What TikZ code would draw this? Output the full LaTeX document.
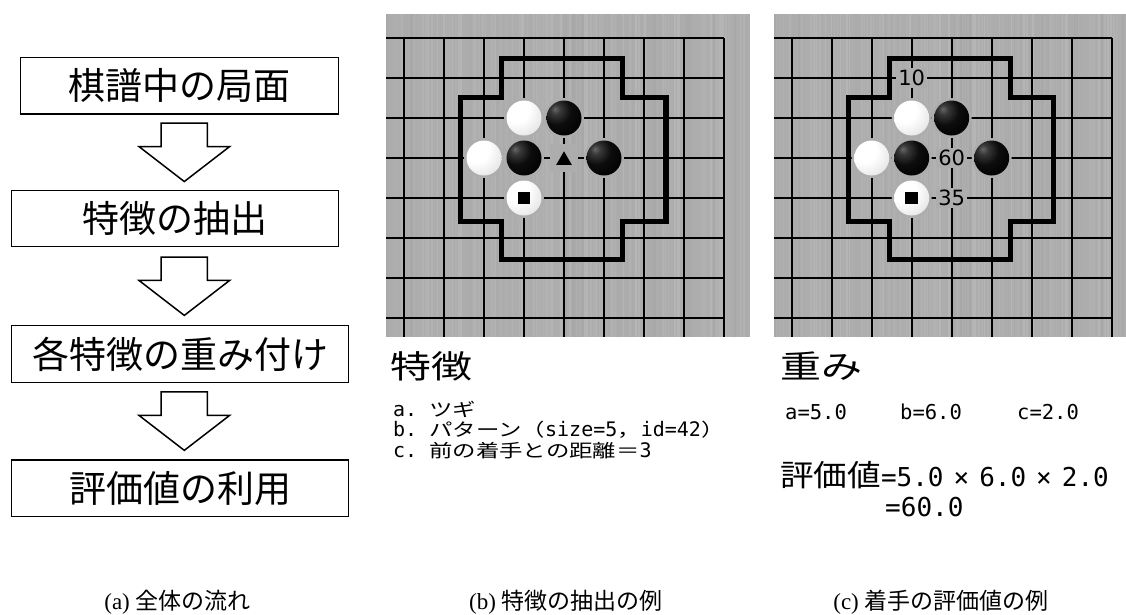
\documentclass[tikz,border=0pt]{standalone}
\usepackage{fontspec}
\usetikzlibrary{calc,shapes.geometric}

% Fonts
\newfontfamily\jpfont{Noto Sans CJK JP}
\newfontfamily\jpwide[FakeStretch=1.3]{Noto Sans CJK JP}
\newfontfamily\jphead[FakeStretch=1.28]{Noto Sans CJK JP}
\newfontfamily\jpeval[FakeStretch=1.12]{Noto Sans CJK JP}
\newfontfamily\monofnt{DejaVu Sans Mono}
\newfontfamily\capserif{Liberation Serif}
\newfontfamily\numfont{DejaVu Sans}
\newcommand\fsz[1]{\fontsize{#1pt}{#1pt}\selectfont}
\newcommand\featlat[1]{{\monofnt\fsz{20}#1}}
\newcommand\featjp[1]{{\jpwide\fsz{18}#1}}

\colorlet{boardgray}{black!32}

% Go stone shadings (highlight at the upper left)
\pgfdeclareradialshading{blackstone}{\pgfpoint{-13bp}{13bp}}{%
  color(0bp)=(black!60); color(7bp)=(black!78); color(20bp)=(black!95);
  color(40bp)=(black); color(62bp)=(black!92); color(100bp)=(black!90)}
\pgfdeclareradialshading{whitestone}{\pgfpoint{-14bp}{14bp}}{%
  color(0bp)=(white); color(18bp)=(white); color(38bp)=(black!10);
  color(52bp)=(black!30); color(66bp)=(black!50); color(100bp)=(black!50)}

\tikzset{
  flowbox/.style={draw=black, line width=1.5pt, inner sep=0, font=\jpfont\fsz{37}},
  arrowline/.style={draw=black, line width=1.5pt, line join=miter, fill=white},
  gridline/.style={black, line width=1.8pt},
  pattline/.style={black, line width=5.5pt, line join=miter},
  bstone/.style={circle, shade, shading=blackstone, minimum size=35pt, inner sep=0},
  wstone/.style={circle, shade, shading=whitestone, minimum size=35pt, inner sep=0},
  sqmark/.style={fill=black, minimum size=12.5pt, inner sep=0},
  markbg/.style={fill=boardgray, minimum size=28pt, inner sep=0},
  trimark/.style={regular polygon, regular polygon sides=3, fill=black, minimum size=18pt, inner sep=0},
  numlbl/.style={fill=boardgray, inner xsep=2pt, inner ysep=2pt, font=\numfont\fsz{21}},
  textline/.style={anchor=west, inner sep=0},
  caption/.style={inner sep=0, font=\fsz{23}},
  pics/downarrow/.style={code={
    \draw[arrowline] (-23.15,-29.2) -- (23.15,-29.2) -- (23.15,-5.8) -- (45.35,-5.8)
      -- (0,29.2) -- (-45.35,-5.8) -- (-23.15,-5.8) -- cycle;}}
}

% Board crop: grid, pattern outline and stones; #1 = right edge, #2 = name prefix
\newcommand\goboard[2]{%
  \begin{scope}
    \clip (-18,-24) rectangle (#1,299);
    \fill[boardgray] (-18,-24) rectangle (#1,299);
    \pgfmathsetseed{11}
    \foreach \sx in {-18,-15,...,#1}{
      \pgfmathsetmacro\sw{0.8+2.2*rnd}
      \pgfmathtruncatemacro\sg{29+6*rnd}
      \fill[black!\sg] (\sx,-24) rectangle ++(\sw,323);
    }
    \foreach \k in {0,...,7} \draw[gridline] (-18,\k*40) -- (320,\k*40);
    \foreach \i in {0,...,8} \draw[gridline] (\i*40,0) -- (\i*40,299);
  \end{scope}
  \draw[pattline] (97.7,20.3) -- (218.7,20.3) -- (218.7,59.3) -- (262,59.3)
    -- (262,183.7) -- (218.7,183.7) -- (218.7,221.3) -- (97.7,221.3)
    -- (97.7,183.7) -- (56.7,183.7) -- (56.7,59.3) -- (97.7,59.3) -- cycle;
  \foreach \p in {(120,80),(160,80),(80,120),(120,120),(200,120),(120,160)}
    \fill[boardgray] \p circle[radius=20];
  \node[wstone] (#2w1) at (120,80) {};
  \node[bstone] (#2b1) at (160,80) {};
  \node[wstone] (#2w2) at (80,120) {};
  \node[bstone] (#2b2) at (120,120) {};
  \node[bstone] (#2b3) at (200,120) {};
  \node[wstone] (#2w3) at (120,160) {};
  \node[sqmark] (#2sq) at (120,160) {};
}

\begin{document}
\begin{tikzpicture}[x=1pt,y=-1pt]
\useasboundingbox[fill=white] (0,0) rectangle (1126,614);

% (a) flow of the method
\node[flowbox, minimum width=317.6pt, minimum height=56.7pt] (b1) at (179.5,85.65) {棋譜中の局面};
\node[flowbox, minimum width=326.6pt, minimum height=56pt] (b2) at (175,218.7) {特徴の抽出};
\node[flowbox, minimum width=336.6pt, minimum height=56.6pt] (b3) at (180,354) {各特徴の重み付け};
\node[flowbox, minimum width=336.6pt, minimum height=56.7pt] (b4) at (180,488.35) {評価値の利用};

\coordinate (m1) at ($(b1.south)!0.5!(b2.north)$);
\coordinate (m2) at ($(b2.south)!0.5!(b3.north)$);
\coordinate (m3) at ($(b3.south)!0.5!(b4.north)$);
\pic at (184.3,0 |- m1) {downarrow};
\pic at (184.3,0 |- m2) {downarrow};
\pic at (184.3,0 |- m3) {downarrow};

% (b) extracted features
\begin{scope}[shift={(404,38)}]
  \goboard{346}{fb}
  \node[markbg] (trbg) at (160,120) {};
  \node[trimark] (tri) at (160,122.3) {};
\end{scope}
\node[textline] (headB) at (390,366) {\jphead\fsz{32}特徴};
\node[textline] (fa) at (393,409) {\featlat{a.\ }\featjp{ツギ}};
\node[textline] (fb) at (393,430) {\featlat{b.\ }\featjp{パターン（}\featlat{size=5}\featjp{，}\featlat{id=42}\featjp{）}};
\node[textline] (fc) at (393,451) {\featlat{c.\ }\featjp{前の着手との距離＝}\featlat{3}};

% (c) evaluation of a move
\begin{scope}[shift={(791.7,38)}]
  \goboard{334.3}{ev}
  \node[numlbl] (n10) at (120,40) {10};
  \node[numlbl] (n60) at (160,120) {60};
  \node[numlbl] (n35) at (160,160) {35};
\end{scope}
\node[textline] (headC) at (780,366) {\jphead\fsz{32}重み};
\node[textline] (wa) at (785,412) {\monofnt\fsz{20.5}a=5.0};
\node[textline] (wb) at (900,412) {\monofnt\fsz{20.5}b=6.0};
\node[textline] (wc) at (1017,412) {\monofnt\fsz{20.5}c=2.0};
\node[textline] (evl) at (780,475) {{\jpeval\fsz{30}評価値}{\monofnt\fsz{26}=5.0\hspace{10pt}×\hspace{10pt}6.0\hspace{10pt}×\hspace{10pt}2.0}};
\node[textline] (evr) at (885,507) {\monofnt\fsz{26}=60.0};

% captions
\node[caption] (capA) at (177.5,602) {\capserif (a) \jpfont 全体の流れ};
\node[caption] (capB) at (566,602) {\capserif (b) \jpfont 特徴の抽出の例};
\node[caption] (capC) at (941,602) {\capserif (c) \jpfont 着手の評価値の例};
\end{tikzpicture}
\end{document}
